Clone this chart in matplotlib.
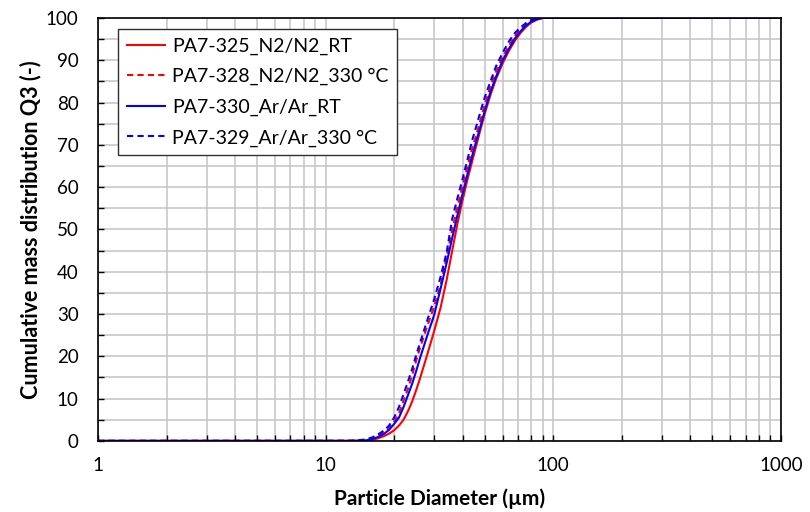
import matplotlib.pyplot as plt
from matplotlib.ticker import MultipleLocator, LogLocator, NullFormatter, FixedLocator

plt.rcParams['font.family'] = ['Lato', 'DejaVu Sans']

# particle size classes (µm)
diameter = [1, 2, 5, 10, 13, 15, 16, 17, 18, 19, 20, 21, 22, 23, 24, 25, 26, 28, 30,
            32, 34, 36, 38, 40, 42, 44, 46, 48, 50, 53, 56, 60, 64, 68, 72, 76, 80,
            85, 90, 100, 200, 500, 1000]

# cumulative Q3 (%) for each sample
q3_325 = [0, 0, 0, 0, 0, 0, 0.2, 0.6, 1.1, 1.7, 2.5, 3.6, 5.0, 7.0, 9.3, 12.0, 14.8, 20.5, 26.0,
          31.5, 38.0, 45.0, 51.5, 57.0, 61.8, 66.0, 70.0, 73.8, 77.3, 81.8, 85.5, 89.3, 92.3, 94.7, 96.5, 97.9, 98.9,
          99.6, 100, 100, 100, 100, 100]
q3_328 = [0, 0, 0, 0, 0, 0.2, 0.6, 1.2, 2.0, 3.0, 4.5, 6.5, 9.5, 12.3, 15.5, 19.0, 22.0, 27.2, 31.8,
          36.8, 43.5, 50.0, 55.5, 60.3, 64.8, 69.0, 72.5, 76.0, 79.5, 83.8, 87.3, 90.8, 93.5, 95.8, 97.3, 98.5, 99.3,
          99.8, 100, 100, 100, 100, 100]
q3_330 = [0, 0, 0, 0, 0, 0.1, 0.4, 0.9, 1.6, 2.6, 4.0, 5.5, 8.0, 10.8, 13.5, 16.5, 19.6, 25.0, 29.8,
          36.0, 42.0, 48.0, 53.5, 58.5, 63.0, 67.3, 71.0, 74.5, 78.0, 82.5, 86.0, 90.0, 92.8, 95.2, 96.9, 98.2, 99.1,
          99.7, 100, 100, 100, 100, 100]
q3_329 = [0, 0, 0, 0, 0.05, 0.3, 0.8, 1.5, 2.4, 3.6, 5.5, 8.0, 11.0, 14.0, 17.0, 20.3, 23.2, 28.6, 33.5,
          38.8, 44.5, 52.5, 57.5, 62.0, 66.5, 71.0, 74.5, 78.0, 81.2, 85.0, 88.5, 91.8, 94.5, 96.5, 97.8, 98.8, 99.5,
          99.9, 100, 100, 100, 100, 100]

fig = plt.figure(figsize=(8.1, 5.12), dpi=100)
ax = fig.add_axes([0.121, 0.139, 0.843, 0.826])

ax.plot(diameter, q3_325, color='#ff0000', lw=1.5, ls='-', label='PA7-325_N2/N2_RT')
ax.plot(diameter, q3_328, color='#ff0000', lw=1.5, ls=(0, (3, 2)), label='PA7-328_N2/N2_330 °C')
ax.plot(diameter, q3_330, color='#0000ff', lw=1.5, ls='-', label='PA7-330_Ar/Ar_RT')
ax.plot(diameter, q3_329, color='#0000ff', lw=1.5, ls=(0, (3, 2)), label='PA7-329_Ar/Ar_330 °C')

ax.set_xscale('log')
ax.set_xlim(1, 1000)
ax.set_ylim(0, 100)
ax.xaxis.set_major_locator(FixedLocator([1, 10, 100, 1000]))
ax.xaxis.set_major_formatter(plt.FuncFormatter(lambda v, p: '%d' % v))
ax.xaxis.set_minor_locator(LogLocator(base=10, subs=range(2, 10)))
ax.xaxis.set_minor_formatter(NullFormatter())
ax.yaxis.set_major_locator(MultipleLocator(10))
ax.yaxis.set_minor_locator(MultipleLocator(5))

ax.grid(which='both', color='#c4c4c4', lw=1.1)
ax.set_axisbelow(True)
for s in ax.spines.values():
    s.set_color('black')
    s.set_linewidth(1.2)
ax.tick_params(which='both', direction='in', length=4, width=1, labelsize=13.5, colors='black')
ax.tick_params(axis='x', pad=12)
ax.tick_params(axis='y', pad=14)

ax.set_xlabel('Particle Diameter (µm)', fontsize=15, fontweight='bold', labelpad=10)
ax.set_ylabel('Cumulative mass distribution Q3 (-)', fontsize=15.5, fontweight='bold', labelpad=3)

leg = ax.legend(loc='upper left', bbox_to_anchor=(0.029, 0.974), borderaxespad=0,
                fontsize=14, frameon=True, fancybox=False, edgecolor='#303030', framealpha=1,
                handlelength=2.0, labelspacing=0.68, borderpad=0.45, handletextpad=0.35)
leg.get_frame().set_linewidth(1.0)

fig.savefig('out.png', dpi=100)
